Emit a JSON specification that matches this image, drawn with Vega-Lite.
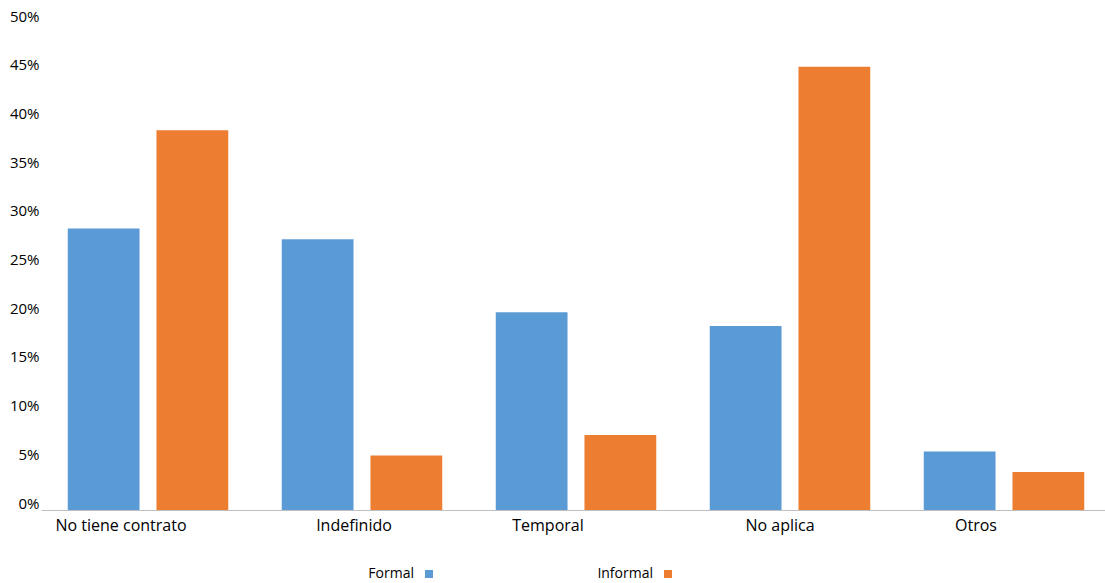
{
  "$schema": "https://vega.github.io/schema/vega-lite/v6.json",
  "autosize": {"type": "none"},
  "padding": {"left": 41, "top": 23, "right": 0, "bottom": 73},
  "width": 1064,
  "height": 487,
  "config": {"view": {"stroke": null}, "font": "Open Sans"},
  "data": {
    "values": [
      {"contrato": "No tiene contrato", "tipo": "Formal", "valor": 0.289},
      {"contrato": "No tiene contrato", "tipo": "Informal", "valor": 0.390},
      {"contrato": "Indefinido", "tipo": "Formal", "valor": 0.278},
      {"contrato": "Indefinido", "tipo": "Informal", "valor": 0.056},
      {"contrato": "Temporal", "tipo": "Formal", "valor": 0.203},
      {"contrato": "Temporal", "tipo": "Informal", "valor": 0.077},
      {"contrato": "No aplica", "tipo": "Formal", "valor": 0.189},
      {"contrato": "No aplica", "tipo": "Informal", "valor": 0.455},
      {"contrato": "Otros", "tipo": "Formal", "valor": 0.060},
      {"contrato": "Otros", "tipo": "Informal", "valor": 0.039}
    ]
  },
  "mark": {"type": "bar"},
  "encoding": {
    "x": {
      "field": "contrato",
      "type": "nominal",
      "sort": ["No tiene contrato", "Indefinido", "Temporal", "No aplica", "Otros"],
      "scale": {"range": [0, 1070], "paddingInner": 0.25, "paddingOuter": 0.125},
      "axis": {
        "title": null,
        "labelAngle": 0,
        "domainColor": "#bfbfbf",
        "domainWidth": 1,
        "ticks": false,
        "labelFontSize": 16,
        "labelColor": "#000000",
        "labelPadding": 7,
        "labelOffset": {"expr": "datum.value == 'No tiene contrato' ? -27 : datum.value == 'Indefinido' ? -8 : datum.value == 'Temporal' ? -28 : datum.value == 'No aplica' ? -10 : -28"}
      }
    },
    "xOffset": {
      "field": "tipo",
      "type": "nominal",
      "scale": {"paddingInner": 0.191, "paddingOuter": 0}
    },
    "y": {
      "field": "valor",
      "type": "quantitative",
      "scale": {"domain": [0, 0.5]},
      "axis": {
        "title": null,
        "format": ".0%",
        "values": [0, 0.05, 0.1, 0.15, 0.2, 0.25, 0.3, 0.35, 0.4, 0.45, 0.5],
        "grid": false,
        "domain": false,
        "ticks": false,
        "labelFontSize": 15,
        "labelColor": "#000000",
        "labelPadding": 2,
        "labelOffset": -7
      }
    },
    "color": {
      "field": "tipo",
      "type": "nominal",
      "scale": {"domain": ["Formal", "Informal"], "range": ["#5B9BD5", "#ED7D31"]},
      "legend": {
        "title": null,
        "orient": "none",
        "direction": "horizontal",
        "legendX": 381,
        "legendY": 544,
        "padding": 0,
        "symbolType": "square",
        "symbolSize": 64,
        "symbolStrokeWidth": 0,
        "labelAlign": "right",
        "labelOffset": -22,
        "labelFontSize": 14,
        "labelColor": "#000000",
        "columnPadding": 164
      }
    }
  }
}
